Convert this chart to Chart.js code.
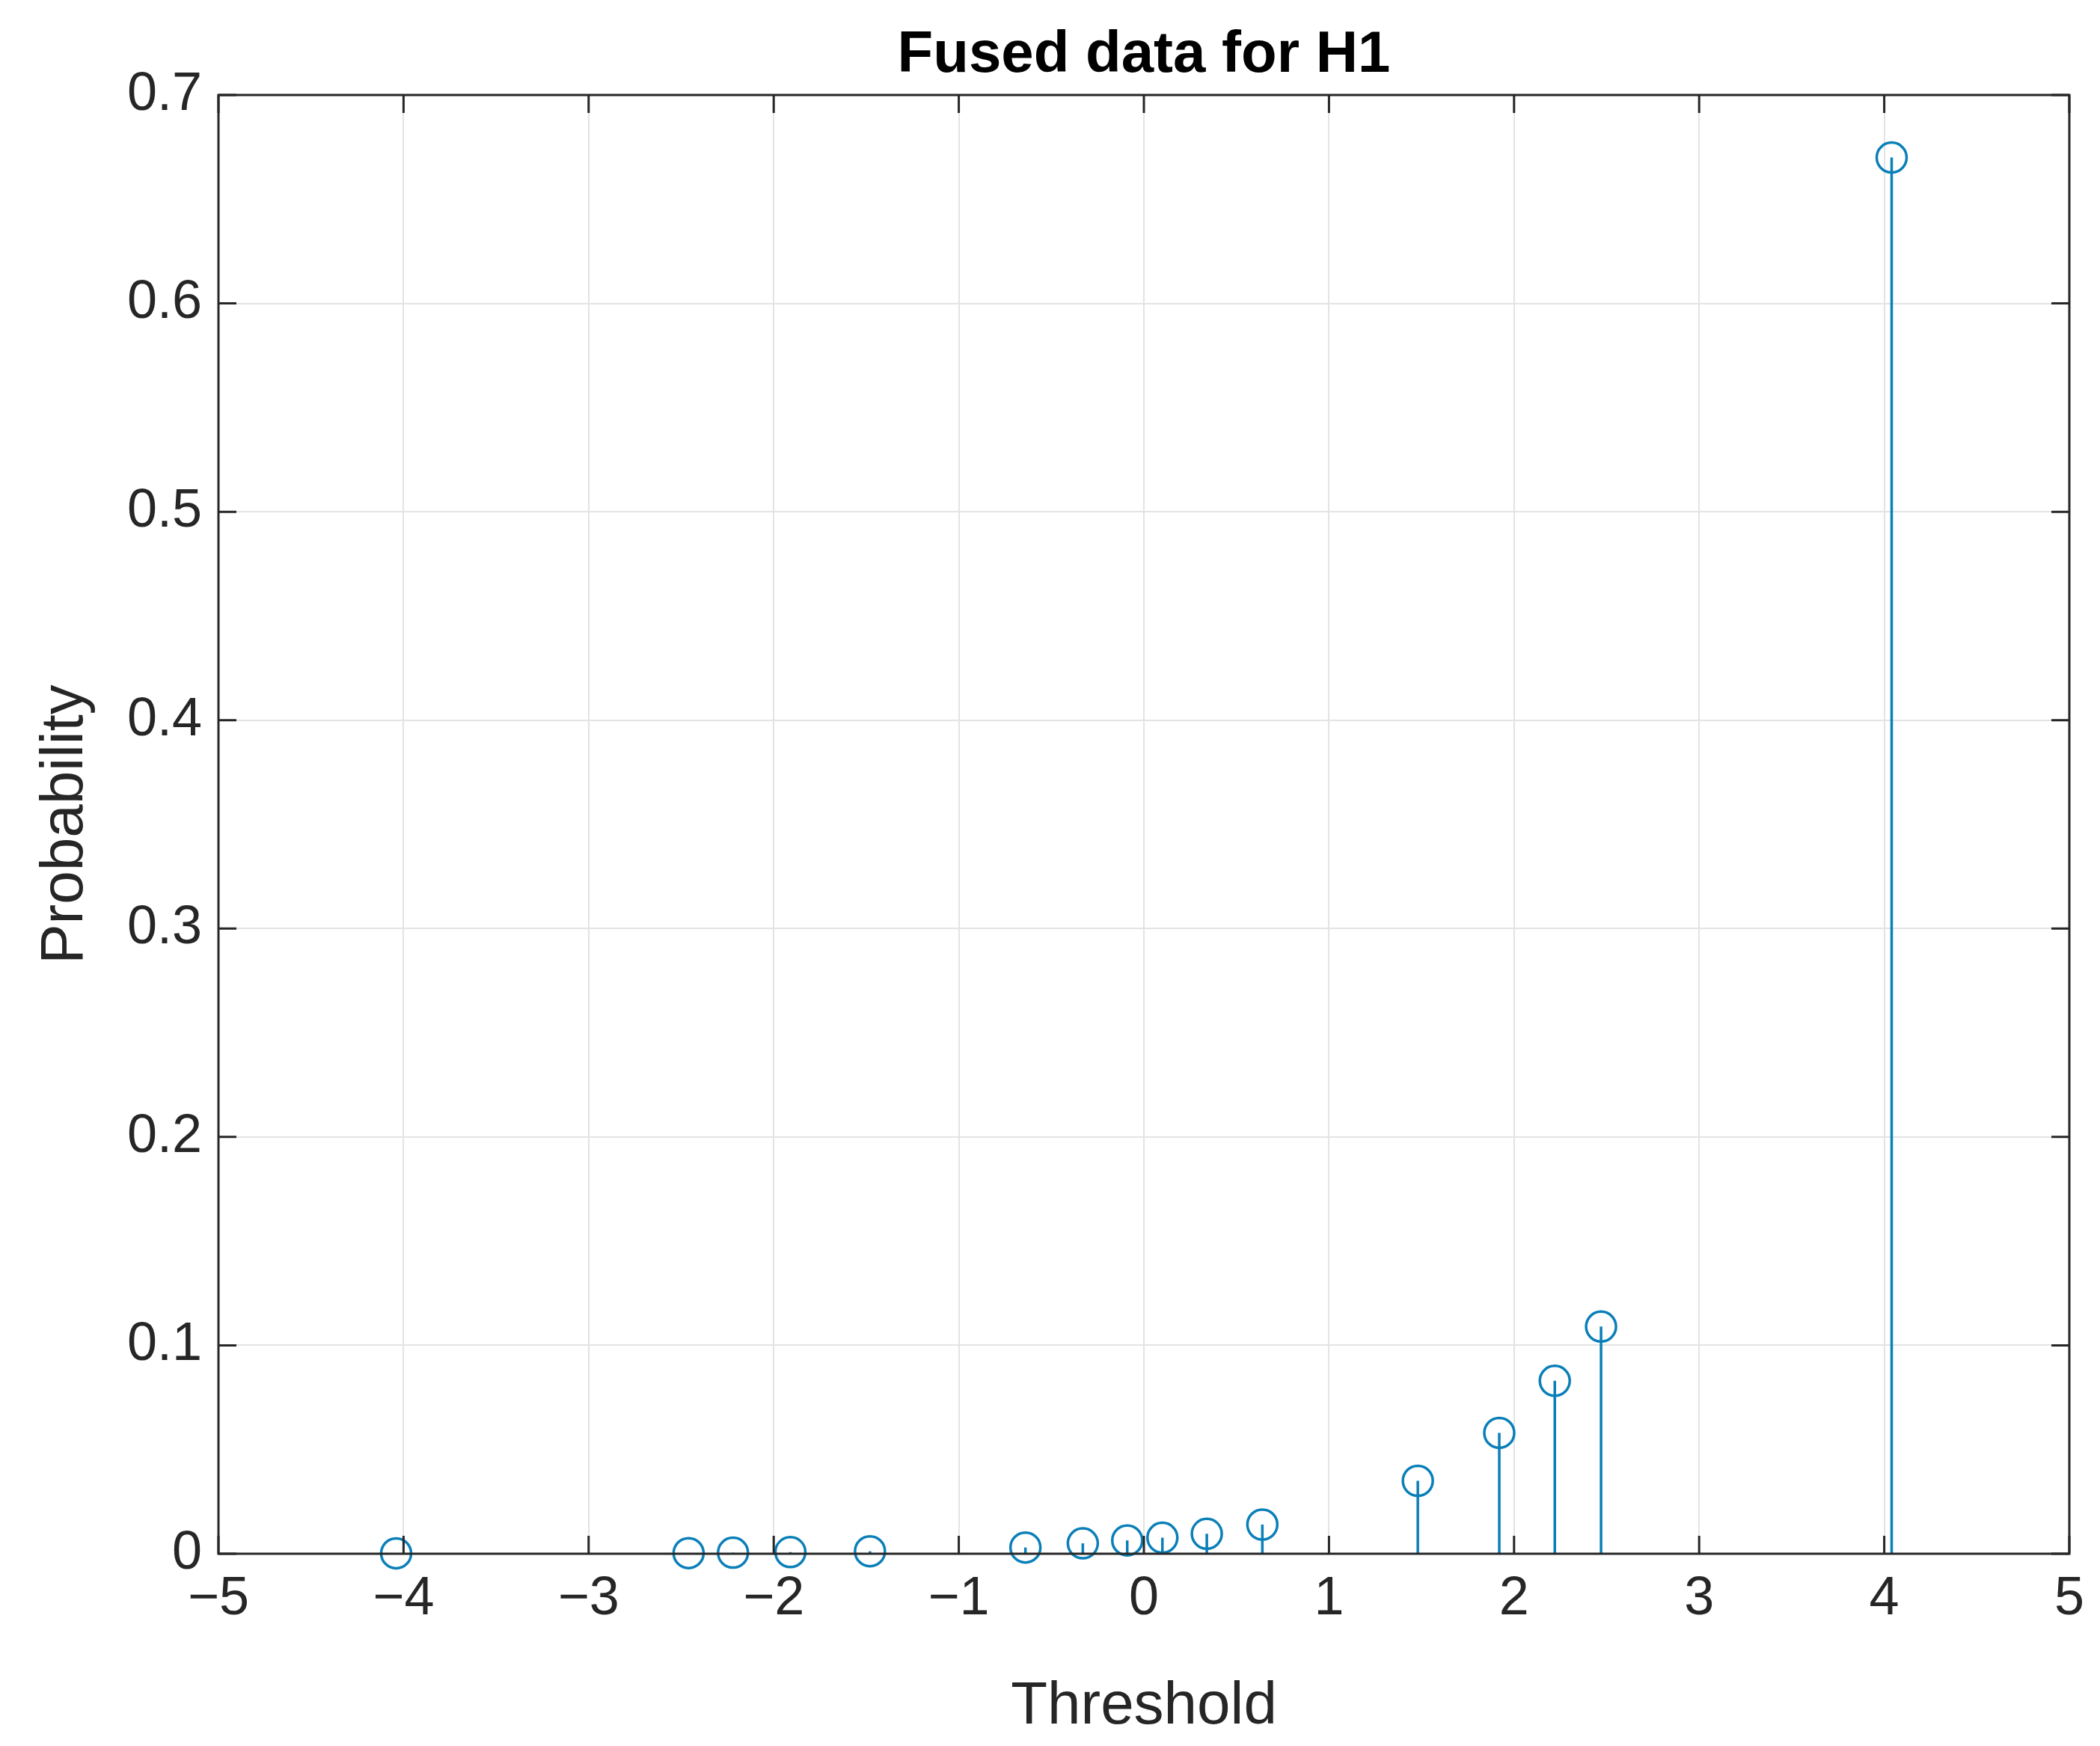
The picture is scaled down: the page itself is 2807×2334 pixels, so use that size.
<!DOCTYPE html>
<html>
<head>
<meta charset="utf-8">
<script src="https://cdn.jsdelivr.net/npm/chart.js@4"></script>
<style>
  html, body { margin: 0; padding: 0; background: #fff; }
  #wrap { width: 2807px; height: 2334px; }
</style>
</head>
<body>
<div id="wrap"><canvas id="c" width="2807" height="2334"></canvas></div>
<script>
const thresholds = [-4.04, -2.46, -2.22, -1.91, -1.48, -0.64, -0.33, -0.09, 0.10, 0.34, 0.64, 1.48, 1.92, 2.22, 2.47, 4.04];
const probabilities = [0.0002, 0.0003, 0.0005, 0.0008, 0.0012, 0.003, 0.005, 0.0064, 0.0077, 0.0096, 0.014, 0.035, 0.058, 0.083, 0.109, 0.670];
const xTicks = [-5, -4, -3, -2, -1, 0, 1, 2, 3, 4, 5];
const yTicks = [0, 0.1, 0.2, 0.3, 0.4, 0.5, 0.6, 0.7];

const blue = '#0a7fb8';
const font = "'Liberation Sans', Arial, sans-serif";

// stems, title over plot area, matlab style box with inward ticks
const stemPlugin = {
  id: 'stems',
  beforeDatasetsDraw(chart) {
    const ctx = chart.ctx, x = chart.scales.x, y = chart.scales.y;
    ctx.save();
    ctx.strokeStyle = blue;
    ctx.lineWidth = 3.5;
    thresholds.forEach((t, i) => {
      const px = x.getPixelForValue(t);
      ctx.beginPath();
      ctx.moveTo(px, y.getPixelForValue(0));
      ctx.lineTo(px, y.getPixelForValue(probabilities[i]));
      ctx.stroke();
    });
    ctx.restore();
  },
  afterDraw(chart) {
    const ctx = chart.ctx, a = chart.chartArea, x = chart.scales.x, y = chart.scales.y;
    ctx.save();
    ctx.strokeStyle = '#262626';
    ctx.lineWidth = 3;
    ctx.strokeRect(a.left, a.top, a.right - a.left, a.bottom - a.top);
    const len = 24;
    ctx.beginPath();
    xTicks.forEach(v => {
      const px = x.getPixelForValue(v);
      ctx.moveTo(px, a.bottom); ctx.lineTo(px, a.bottom - len);
      ctx.moveTo(px, a.top); ctx.lineTo(px, a.top + len);
    });
    yTicks.forEach(v => {
      const py = y.getPixelForValue(v);
      ctx.moveTo(a.left, py); ctx.lineTo(a.left + len, py);
      ctx.moveTo(a.right, py); ctx.lineTo(a.right - len, py);
    });
    ctx.stroke();
    ctx.fillStyle = '#000';
    ctx.font = 'bold 78px ' + font;
    ctx.textAlign = 'center';
    ctx.textBaseline = 'alphabetic';
    ctx.fillText('Fused data for H1', (a.left + a.right) / 2, 96);
    ctx.restore();
  }
};

new Chart(document.getElementById('c'), {
  type: 'scatter',
  data: {
    datasets: [{
      data: thresholds.map((t, i) => ({ x: t, y: probabilities[i] })),
      pointStyle: 'circle',
      pointRadius: 20,
      pointBorderWidth: 3.5,
      borderColor: blue,
      backgroundColor: 'rgba(0,0,0,0)',
      clip: false
    }]
  },
  options: {
    responsive: false,
    animation: false,
    layout: { padding: { left: 0, right: 41, top: 127, bottom: 0 } },
    plugins: {
      legend: { display: false },
      tooltip: { enabled: false },
      title: { display: false }
    },
    scales: {
      x: {
        type: 'linear', min: -5, max: 5,
        afterBuildTicks: s => { s.ticks = xTicks.map(v => ({ value: v })); },
        afterFit: s => { s.height = 257; },
        ticks: { color: '#262626', font: { family: font, size: 72 }, padding: 18,
                 callback: v => String(v).replace('-', '\u2212') },
        grid: { color: '#e3e3e3', lineWidth: 2, drawTicks: false },
        border: { display: false },
        title: { display: true, text: 'Threshold', color: '#262626', font: { family: font, size: 80 }, padding: { top: 0 } }
      },
      y: {
        type: 'linear', min: 0, max: 0.7,
        afterBuildTicks: s => { s.ticks = yTicks.map(v => ({ value: v })); },
        afterFit: s => { s.width = 292; },
        ticks: { color: '#262626', font: { family: font, size: 72 }, padding: 22,
                 callback: v => String(+v.toFixed(1)) },
        grid: { color: '#e3e3e3', lineWidth: 2, drawTicks: false },
        border: { display: false },
        title: { display: true, text: 'Probability', color: '#262626', font: { family: font, size: 80 }, padding: { top: 40, bottom: 0 } }
      }
    }
  },
  plugins: [stemPlugin]
});
</script>
</body>
</html>
